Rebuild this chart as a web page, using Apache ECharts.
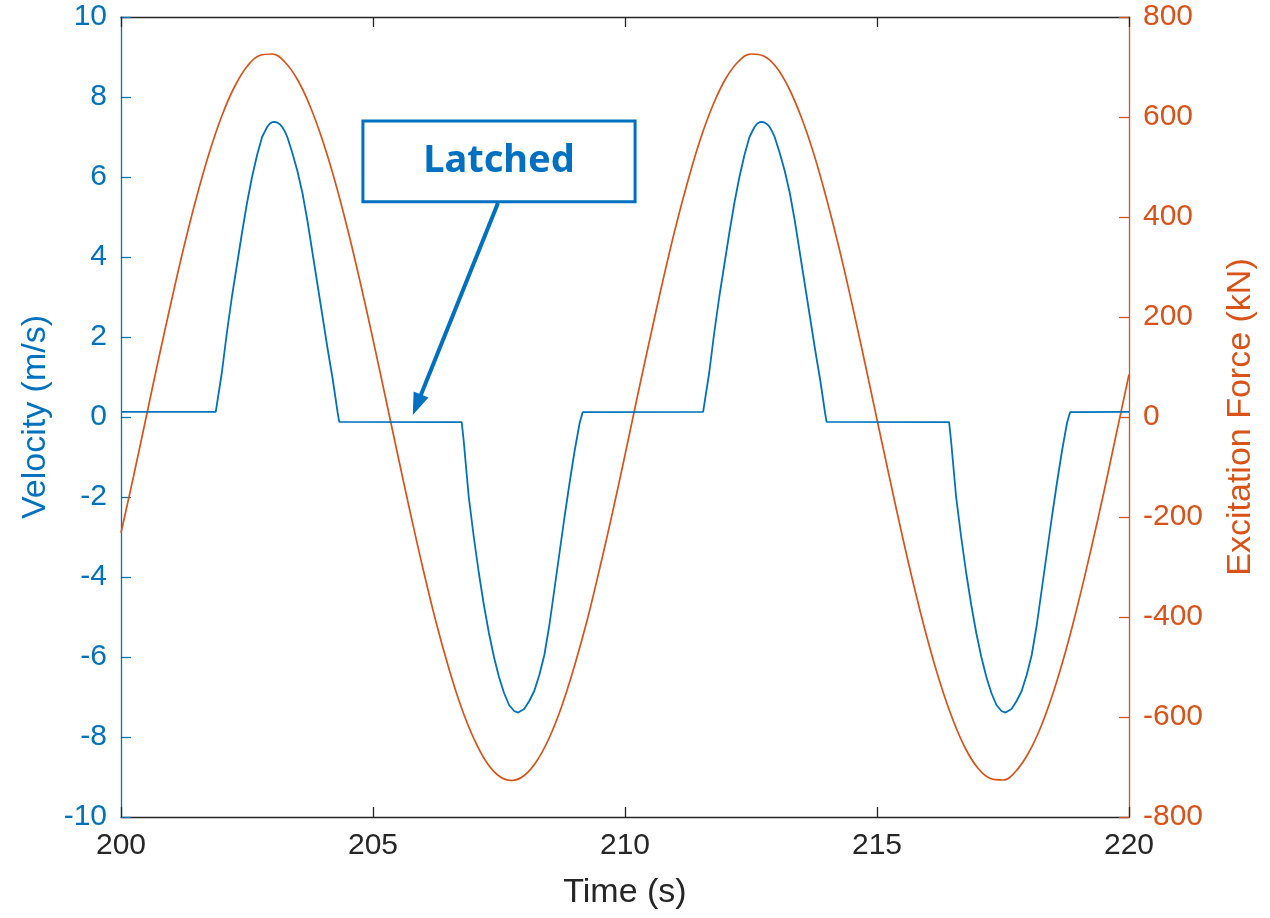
<!DOCTYPE html>
<html>
<head>
<meta charset="utf-8">
<script src="https://cdn.jsdelivr.net/npm/echarts@6/dist/echarts.min.js"></script>
<style>
html,body{margin:0;padding:0;background:#fff;}
#chart{width:1270px;height:918px;}
</style>
</head>
<body>
<div id="chart"></div>
<script>
// ---- data ----
var xTicks = [200, 205, 210, 215, 220];
var velTicks = [-10, -8, -6, -4, -2, 0, 2, 4, 6, 8, 10];
var forceTicks = [-800, -600, -400, -200, 0, 200, 400, 600, 800];

var forceTime = [200,200.25,200.5,200.75,201,201.25,201.5,201.75,202,202.25,202.5,202.75,203,203.25,203.5,203.75,204,204.25,204.5,204.75,
205,205.25,205.5,205.75,206,206.25,206.5,206.75,207,207.25,207.5,207.75,208,208.25,208.5,208.75,209,209.25,209.5,209.75,
210,210.25,210.5,210.75,211,211.25,211.5,211.75,212,212.25,212.5,212.75,213,213.25,213.5,213.75,214,214.25,214.5,214.75,
215,215.25,215.5,215.75,216,216.25,216.5,216.75,217,217.25,217.5,217.75,218,218.25,218.5,218.75,219,219.25,219.5,219.75,220];
var forceValue = [-232,-118,0,118,232,341,440,528,602,660,701,723,726,710,675,622,553,470,374,268,
155,38,-80,-196,-307,-410,-501,-580,-643,-690,-718,-727,-717,-688,-641,-577,-497,-406,-302,-192,
-76,43,159,272,378,473,557,625,677,711,726,722,700,658,599,525,436,337,228,113,
-5,-122,-237,-345,-444,-531,-604,-662,-702,-723,-726,-709,-673,-620,-550,-466,-369,-263,-151,-33,85];

var velTime = [200.0,201.88,202.0,202.1,202.2,202.3,202.4,202.5,202.6,202.7,202.8,202.85,202.9,202.95,203.0,203.05,203.1,203.15,203.2,203.25,203.3,203.4,203.5,203.6,203.7,203.8,203.9,204.0,204.1,204.2,204.3,204.33,
206.76,206.8,206.9,207.0,207.1,207.2,207.3,207.4,207.5,207.6,207.7,207.8,207.88,208.0,208.1,208.2,208.3,208.4,208.5,208.6,208.7,208.8,208.9,209.0,209.1,209.16,
211.55,211.67,211.77,211.87,211.97,212.07,212.17,212.27,212.37,212.47,212.52,212.57,212.62,212.67,212.72,212.77,212.82,212.87,212.92,212.97,213.07,213.17,213.27,213.37,213.47,213.57,213.67,213.77,213.87,213.97,214.0,
216.43,216.47,216.57,216.67,216.77,216.87,216.97,217.07,217.17,217.27,217.37,217.47,217.55,217.67,217.77,217.87,217.97,218.07,218.17,218.27,218.37,218.47,218.57,218.67,218.77,218.83,220.0];
var velValue = [0.13,0.13,1.1,2.1,3.0,3.8,4.6,5.35,6.0,6.55,7.0,7.13,7.25,7.33,7.37,7.38,7.36,7.32,7.25,7.14,7.0,6.6,6.15,5.6,4.9,4.1,3.3,2.5,1.7,0.95,0.1,-0.12,
-0.13,-0.6,-2.0,-3.0,-3.9,-4.7,-5.4,-6.0,-6.5,-6.9,-7.2,-7.35,-7.39,-7.3,-7.1,-6.85,-6.45,-5.95,-5.2,-4.3,-3.4,-2.5,-1.65,-0.85,-0.15,0.12,
0.13,1.1,2.1,3.0,3.8,4.6,5.35,6.0,6.55,7.0,7.13,7.25,7.33,7.37,7.38,7.36,7.32,7.25,7.14,7.0,6.6,6.15,5.6,4.9,4.1,3.3,2.5,1.7,0.95,0.1,-0.12,
-0.13,-0.6,-2.0,-3.0,-3.9,-4.7,-5.4,-6.0,-6.5,-6.9,-7.2,-7.35,-7.39,-7.3,-7.1,-6.85,-6.45,-5.95,-5.2,-4.3,-3.4,-2.5,-1.65,-0.85,-0.15,0.12,0.13];

// annotation anchor points in data units (time, velocity)
var noteText = 'Latched';
var noteBox = [[204.8, 7.4], [210.2, 5.38]];
var arrowFrom = [207.48, 5.35];
var arrowTo = [205.79, 0.05];

// ---- chart ----
var BLUE = '#0072BD', ORANGE = '#D95319', DARK = '#262626', NOTE = '#0070C0';
var FONT = 'Liberation Sans, Arial, sans-serif';

function zip(a, b) { return a.map(function (v, i) { return [v, b[i]]; }); }

var chart = echarts.init(document.getElementById('chart'), null, {renderer: 'canvas'});
var option = {
  animation: false,
  backgroundColor: '#fff',
  grid: {left: 121, right: 141, top: 17, bottom: 101, containLabel: false},
  xAxis: [{
    type: 'value', position: 'bottom', min: xTicks[0], max: xTicks[xTicks.length - 1], interval: 5,
    name: 'Time (s)', nameLocation: 'middle', nameGap: 59,
    nameTextStyle: {color: DARK, fontSize: 34, fontFamily: FONT},
    axisLine: {onZero: false, lineStyle: {color: DARK, width: 1.3}},
    axisTick: {inside: true, length: 10, lineStyle: {color: DARK, width: 1.3}},
    axisLabel: {color: DARK, fontSize: 30, fontFamily: FONT, margin: 14},
    splitLine: {show: false}
  }, {
    type: 'value', position: 'top', min: xTicks[0], max: xTicks[xTicks.length - 1], interval: 5,
    axisLine: {onZero: false, lineStyle: {color: DARK, width: 1.3}},
    axisTick: {inside: true, length: 10, lineStyle: {color: DARK, width: 1.3}},
    axisLabel: {show: false}, splitLine: {show: false}
  }],
  yAxis: [{
    type: 'value', position: 'left', min: velTicks[0], max: velTicks[velTicks.length - 1], interval: 2,
    name: 'Velocity (m/s)', nameLocation: 'middle', nameGap: 67,
    nameTextStyle: {color: BLUE, fontSize: 34, fontFamily: FONT},
    axisLine: {show: true, onZero: false, lineStyle: {color: BLUE, width: 1.3}},
    axisTick: {show: true, inside: true, length: 10, lineStyle: {color: BLUE, width: 1.3}},
    axisLabel: {color: BLUE, fontSize: 30, fontFamily: FONT, margin: 14},
    splitLine: {show: false}
  }, {
    type: 'value', position: 'right', min: forceTicks[0], max: forceTicks[forceTicks.length - 1], interval: 200,
    name: 'Excitation Force (kN)', nameLocation: 'middle', nameGap: 95,
    nameTextStyle: {color: ORANGE, fontSize: 34, fontFamily: FONT},
    axisLine: {show: true, onZero: false, lineStyle: {color: ORANGE, width: 1.3}},
    axisTick: {show: true, inside: true, length: 10, lineStyle: {color: ORANGE, width: 1.3}},
    axisLabel: {color: ORANGE, fontSize: 30, fontFamily: FONT, margin: 14},
    splitLine: {show: false}
  }],
  series: [{
    name: 'Excitation Force', type: 'line', xAxisIndex: 0, yAxisIndex: 1,
    data: zip(forceTime, forceValue), smooth: 0.4, showSymbol: false,
    lineStyle: {color: ORANGE, width: 1.7}, z: 2
  }, {
    name: 'Velocity', type: 'line', xAxisIndex: 0, yAxisIndex: 0,
    data: zip(velTime, velValue), smooth: false, showSymbol: false,
    lineStyle: {color: BLUE, width: 1.8}, z: 3
  }]
};
chart.setOption(option);

// annotation placed from data coordinates
function px(p) { return chart.convertToPixel({xAxisIndex: 0, yAxisIndex: 0}, p); }
var b0 = px(noteBox[0]), b1 = px(noteBox[1]);
var a0 = px(arrowFrom), a1 = px(arrowTo);
var dx = a1[0] - a0[0], dy = a1[1] - a0[1], L = Math.sqrt(dx * dx + dy * dy);
var ux = dx / L, uy = dy / L, nx = -uy, ny = ux;
var headLen = 22, headW = 8;
var base = [a1[0] - ux * headLen, a1[1] - uy * headLen];
chart.setOption({
  graphic: [{
    type: 'rect', z: 100,
    shape: {x: b0[0], y: b0[1], width: b1[0] - b0[0], height: b1[1] - b0[1]},
    style: {fill: '#fff', stroke: NOTE, lineWidth: 3}
  }, {
    type: 'text', z: 101,
    x: (b0[0] + b1[0]) / 2, y: (b0[1] + b1[1]) / 2,
    style: {text: noteText, fill: NOTE, font: 'bold 38px "Noto Sans", "Open Sans", sans-serif', textAlign: 'center', textVerticalAlign: 'middle'}
  }, {
    type: 'line', z: 100,
    shape: {x1: a0[0], y1: a0[1], x2: base[0] + ux * 2, y2: base[1] + uy * 2},
    style: {stroke: NOTE, lineWidth: 4}
  }, {
    type: 'polygon', z: 100,
    shape: {points: [[a1[0], a1[1]], [base[0] + nx * headW, base[1] + ny * headW], [base[0] - nx * headW, base[1] - ny * headW]]},
    style: {fill: NOTE}
  }]
});
</script>
</body>
</html>
